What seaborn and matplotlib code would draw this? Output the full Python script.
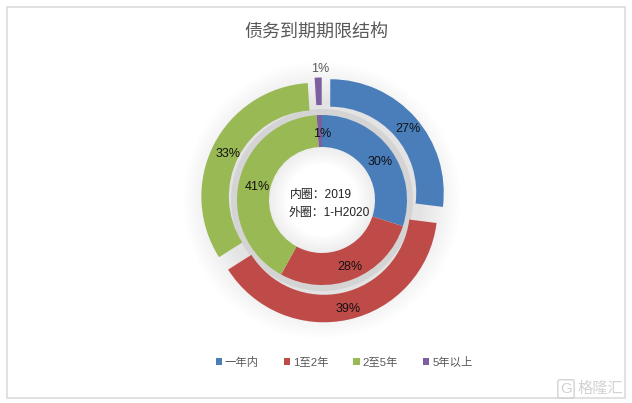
import matplotlib.pyplot as plt
import seaborn as sns
from matplotlib.patches import Rectangle

categories = ['一年内', '1至2年', '2至5年', '5年以上']
outer_values = [27, 39, 33, 1]    # 1-H2020
inner_values = [30, 28, 41, 1]    # 2019
title = '债务到期期限结构'
center_lines = ['内圈：2019', '外圈：1-H2020']

sns.set_theme(style='white')
plt.rcParams['font.family'] = ['Liberation Sans', 'Noto Sans CJK SC', 'DejaVu Sans']

colors = sns.color_palette(['#4a7ebb', '#be4b48', '#98b954', '#7d5fa0'])
text_grey = '#595959'
center = (322, 403 - 200)

fig = plt.figure(figsize=(6.32, 4.03), dpi=100)
ax = fig.add_axes([0, 0, 1, 1])


def ring(values, radius, width, **kwargs):
    return ax.pie(values, radius=radius, center=center, startangle=90, counterclock=False,
                  colors=colors, wedgeprops={'width': width, 'linewidth': 0}, **kwargs)


# soft shadow outside the rings and inside the hole
for r in range(96, 138, 3):
    ax.pie([1], radius=r + 3, center=center, colors=['#808080'],
           wedgeprops={'width': r + 3 - 88, 'alpha': 0.014, 'linewidth': 0})
for r in range(36, 54, 3):
    ax.pie([1], radius=54, center=center, colors=['#808080'],
           wedgeprops={'width': 54 - r, 'alpha': 0.025, 'linewidth': 0})

# grey band between the two rings
ax.pie([1], radius=91, center=center, colors=['#d4d4d4'],
       wedgeprops={'width': 8, 'linewidth': 0})

# explode is in data units here, the axes are in pixels
outer = ring(outer_values, 113.5, 27.5, explode=[11, 9, 8, 9],
             autopct='%d%%', pctdistance=0.88,
             textprops={'fontsize': 9, 'color': '#111111'})
inner = ring(inner_values, 85, 32, autopct='%d%%', pctdistance=0.81,
             textprops={'fontsize': 9, 'color': '#111111'})

# labels sit a little lower right of the slice middle
for label in outer[2] + inner[2]:
    x, y = label.get_position()
    label.set_position((x + 2.5, y - 2.5))

# the 1% of the outer ring sits above its slice
x, y = outer[2][3].get_position()
outer[2][3].set_position((x - 1, center[1] + 131))
outer[2][3].set_color(text_grey)

ax.set_xlim(0, 632)
ax.set_ylim(0, 403)
ax.set_aspect('equal')
ax.axis('off')

# chart frame
ax.add_patch(Rectangle((7, 5), 618, 391, fill=False, edgecolor='#dcdcdc', linewidth=1.2))

ax.text(316, 403 - 32.5, title, ha='center', va='center', fontsize=13, color=text_grey)
ax.text(290, 403 - 195, center_lines[0], ha='left', va='center', fontsize=8.6, color='#222222')
ax.text(289, 403 - 213, center_lines[1], ha='left', va='center', fontsize=8.6, color='#222222')

ax.legend(outer[0], categories, ncol=4, loc='center', bbox_to_anchor=(344 / 632, 1 - 362 / 403),
          frameon=False, fontsize=8.2, labelcolor=text_grey, handlelength=0.55, handleheight=0.55,
          handletextpad=0.25, columnspacing=2.2)

# watermark
ax.text(600, 403 - 389, '格隆汇', ha='center', va='center', fontsize=11, color='#d2d2d2')
ax.text(566, 403 - 389, 'G', ha='center', va='center', fontsize=11, color='#d2d2d2',
        bbox={'boxstyle': 'round,pad=0.15', 'fc': 'none', 'ec': '#d2d2d2', 'lw': 1})

fig.savefig('out.png', dpi=100)
